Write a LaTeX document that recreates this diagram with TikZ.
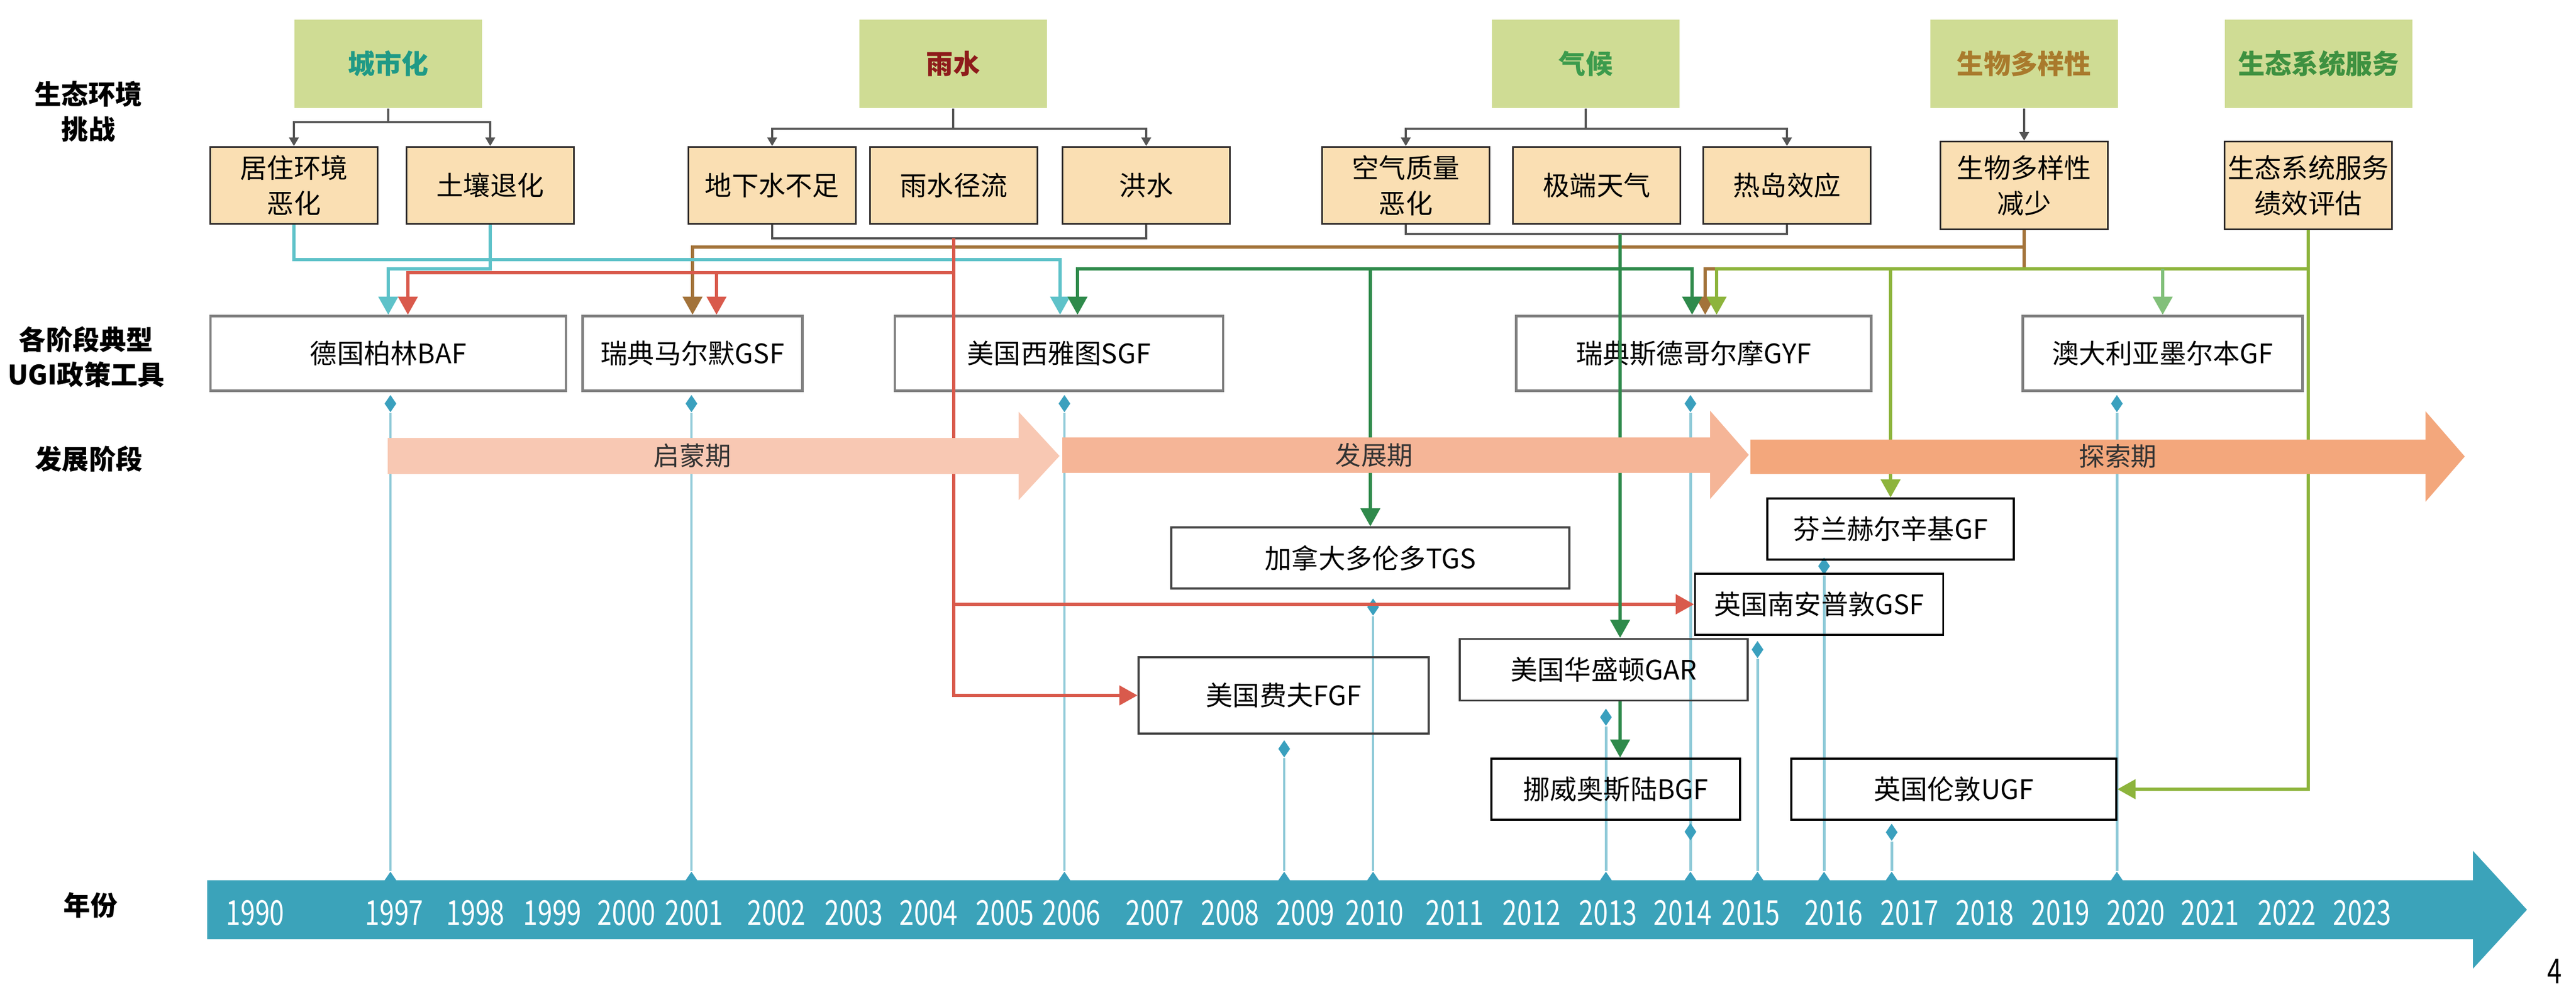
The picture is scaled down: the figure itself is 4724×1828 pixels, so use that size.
\documentclass[tikz,border=0pt]{standalone}
\usepackage{fontspec}
\setmainfont{Noto Sans CJK SC}
\newfontfamily\yearfont[FakeStretch=0.76]{Noto Sans CJK SC}
\usetikzlibrary{arrows.meta,shapes.geometric,calc}

\definecolor{catgreen}{HTML}{CFDC94}
\definecolor{peach}{HTML}{FADFB3}
\definecolor{boxedge}{HTML}{2E2A2A}
\definecolor{toolgray}{HTML}{808080}
\definecolor{brkgray}{HTML}{555555}
\definecolor{tealtxt}{HTML}{1F9A86}
\definecolor{raintxt}{HTML}{8E1B1B}
\definecolor{climtxt}{HTML}{3C9B4C}
\definecolor{biotxt}{HTML}{A97A2C}
\definecolor{ecotxt}{HTML}{3E9140}
\definecolor{cyanln}{HTML}{5EC2C9}
\definecolor{redln}{HTML}{D95A4C}
\definecolor{brownln}{HTML}{A3733A}
\definecolor{dgreenln}{HTML}{2F8A4B}
\definecolor{lgreenln}{HTML}{8DB43C}
\definecolor{mgreenln}{HTML}{82C07A}
\definecolor{stageA}{HTML}{F8C8B3}
\definecolor{stageB}{HTML}{F5B597}
\definecolor{stageC}{HTML}{F3A77C}
\definecolor{axiscol}{HTML}{3BA3BA}
\definecolor{yearcol}{HTML}{8FCAD8}
\definecolor{diamcol}{HTML}{3AA0BE}

\begin{document}
\begin{tikzpicture}[x=0.01cm,y=-0.01cm,
    every node/.style={inner sep=1pt},
    boxfont/.style={font=\fontsize{14}{18.5}\selectfont},
    rowlabel/.style={font=\bfseries\fontsize{14}{18.2}\selectfont,align=center},
    catbox/.style={fill=catgreen,minimum width=3.44cm,minimum height=1.62cm,
      font=\bfseries\fontsize{14}{17}\selectfont},
    probbox/.style={fill=peach,draw=boxedge,line width=0.9pt,minimum width=3.07cm,
      minimum height=1.41cm,align=center,boxfont},
    toolbox/.style={draw=toolgray,line width=1.3pt,minimum height=1.37cm,boxfont},
    citybox/.style={draw=black,line width=1pt,minimum height=1.12cm,boxfont},
    citygray/.style={citybox,draw=black!75},
    brk/.style={draw=brkgray,line width=0.9pt},
    brktips/.style={brk,{Triangle[width=5pt,length=4.5pt]}-{Triangle[width=5pt,length=4.5pt]}},
    link/.style={line width=1.9pt,-{Triangle[width=10pt,length=9.5pt]}},
    diam/.style={diamond,fill=diamcol,inner sep=0pt,minimum width=0.22cm,minimum height=0.32cm},
    yearln/.style={draw=yearcol,line width=1.4pt},
    stagetxt/.style={font=\fontsize{13.5}{16}\selectfont,text=black!80},
    yeartxt/.style={text=white,font={\yearfont\fontsize{18}{20}\selectfont}}]

    \useasboundingbox (0,0) rectangle (4724,1828);

    % Row labels
    \node[rowlabel] (lchal)  at (162,204)  {生态环境\\挑战};
    \node[rowlabel] (ltool)  at (158,654)  {各阶段典型\\UGI政策工具};
    \node[rowlabel] (lstage) at (163,842)  {发展阶段};
    \node[rowlabel] (lyear)  at (166,1660) {年份};

    % Challenge categories
    \node[catbox,text=tealtxt] (cu) at (712,117)  {城市化};
    \node[catbox,text=raintxt] (cr) at (1748,117) {雨水};
    \node[catbox,text=climtxt] (cc) at (2908,117) {气候};
    \node[catbox,text=biotxt]  (cb) at (3712,117) {生物多样性};
    \node[catbox,text=ecotxt]  (ce) at (4252,117) {生态系统服务};

    % Problems
    \node[probbox] (pj) at (539,340)  {居住环境\\恶化};
    \node[probbox] (ps) at (899,340)  {土壤退化};
    \node[probbox] (pg) at (1416,340) {地下水不足};
    \node[probbox] (pr) at (1749,340) {雨水径流};
    \node[probbox] (pf) at (2102,340) {洪水};
    \node[probbox] (pa) at (2578,340) {空气质量\\恶化};
    \node[probbox] (pe) at (2928,340) {极端天气};
    \node[probbox] (ph) at (3277,340) {热岛效应};
    \node[probbox,minimum height=1.61cm] (pb) at (3712,340) {生物多样性\\减少};
    \node[probbox,minimum height=1.61cm] (pv) at (4233,340) {生态系统服务\\绩效评估};

    % Brackets
    \coordinate (uj)  at (712,224);
    \coordinate (rtj) at (1748,236);
    \coordinate (ctj) at (2908,236);
    \coordinate (rj)  at (1749,437);
    \coordinate (cj)  at (2971,429);
    \draw[brk] (cu.south) -- (uj);
    \draw[brktips] (pj.north) |- (uj) -| (ps.north);
    \draw[brk] (cr.south) -- (rtj);
    \draw[brktips] (pg.north) |- (rtj) -| (pf.north);
    \draw[brk] (cc.south) -- (ctj);
    \draw[brktips] (pa.north) |- (ctj) -| (ph.north);
    \draw[brk,-{Triangle[width=5pt,length=4.5pt]}] (cb.south) -- (pb.north);
    \draw[brk] (pg.south) |- (rj) -| (pf.south);
    \draw[brk] (pa.south) |- (cj) -| (ph.south);

    % Policy tools
    \node[toolbox,minimum width=6.52cm] (baf) at (712,648)  {德国柏林BAF};
    \node[toolbox,minimum width=4.03cm] (gsf) at (1270,648) {瑞典马尔默GSF};
    \node[toolbox,minimum width=6.02cm] (sgf) at (1942,648) {美国西雅图SGF};
    \node[toolbox,minimum width=6.51cm] (gyf) at (3106,648) {瑞典斯德哥尔摩GYF};
    \node[toolbox,minimum width=5.13cm] (mgf) at (3966,648) {澳大利亚墨尔本GF};

    % Year lines
    \foreach \n/\x/\y in {a/716/740, b/1268/740, c/1952/740, d/2355/1373,
        e/2518/1113, f/2945/1315, g/3100/740, h/3223/1191, i/3345/1038,
        j/3469/1526, k/3882/740} {
      \node[diam] (d\n) at (\x,\y) {};
      \node[diam] (f\n) at (\x,1614) {};
      \draw[yearln] (d\n) -- (f\n);
    }
    \node[diam] (dl) at (3100,1525) {};

    % Later tools
    \node[citygray,minimum width=7.30cm] (tgs)  at (2513,1023) {加拿大多伦多TGS};
    \node[citygray,minimum width=5.32cm,minimum height=1.40cm] (fgf) at (2354,1275) {美国费夫FGF};
    \node[citygray,minimum width=5.28cm,minimum height=1.13cm] (gar) at (2941,1228) {美国华盛顿GAR};
    \node[citybox,minimum width=4.56cm] (bgf)  at (2963,1447) {挪威奥斯陆BGF};
    \node[citybox,minimum width=4.55cm] (sgsf) at (3336,1108) {英国南安普敦GSF};
    \node[citybox,minimum width=4.52cm] (hgf)  at (3467,970)  {芬兰赫尔辛基GF};
    \node[citybox,minimum width=5.96cm] (ugf)  at (3583,1447) {英国伦敦UGF};

    % Connector levels
    \coordinate (lvA) at (0,453);
    \coordinate (lvB) at (0,476);
    \coordinate (lvC) at (0,493);
    \coordinate (lvD) at (0,500);

    % Biodiversity
    \draw[link,brownln] (pb.south) -- (pb.south |- lvA) -| (gsf.north);
    \draw[link,brownln] (pb.south) -- (pb.south |- lvC) -| ($(gyf.north)+(21,0)$);
    % Urbanisation
    \draw[link,cyanln] (pj.south) -- (pj.south |- lvB) -| ($(sgf.north)+(2,0)$);
    \draw[link,cyanln] (ps.south) -- (ps.south |- lvC) -| (baf.north);
    % Rain
    \draw[link,redln] (rj) |- (fgf.west);
    \draw[link,redln] (rj |- lvD) -| ($(baf.north)+(36,0)$);
    \draw[link,redln] ($(gsf.north |- lvD)+(44,0)$) -- ($(gsf.north)+(44,0)$);
    \draw[link,redln] (rj |- sgsf.west) -- (sgsf.west);
    % Climate
    \draw[link,dgreenln] (cj) -- (cj |- gar.north);
    \draw[link,dgreenln] (cj |- gar.south) -- (cj |- bgf.north);
    \draw[link,dgreenln] (cj |- lvC) -| ($(sgf.north)+(34,0)$);
    \draw[link,dgreenln] (cj |- lvC) -| ($(gyf.north)+(-3,0)$);
    \draw[link,dgreenln] (tgs.north |- lvC) -- (tgs.north);
    % Ecosystem services
    \draw[link,lgreenln] (pv.south) |- (ugf.east);
    \draw[link,lgreenln] (pv.south |- lvC) -| ($(gyf.north)+(42,0)$);
    \draw[link,lgreenln] (hgf.north |- lvC) -- (hgf.north);
    \draw[link,mgreenln] (mgf.north |- lvC) -- (mgf.north);

    % Stages
    \fill[stageA] (711,803) -- (1868,803) -- (1868,755) -- (1943,836)
      -- (1868,917) -- (1868,869) -- (711,869) -- cycle;
    \fill[stageB] (1948,802) -- (3136,802) -- (3136,753) -- (3207,834)
      -- (3136,915) -- (3136,867) -- (1948,867) -- cycle;
    \fill[stageC] (3210,806) -- (4448,806) -- (4448,754) -- (4520,837)
      -- (4448,920) -- (4448,869) -- (3210,869) -- cycle;
    \node[stagetxt] (sa) at (1270,836) {启蒙期};
    \node[stagetxt] (sb) at (2520,834) {发展期};
    \node[stagetxt] (sc) at (3884,837) {探索期};

    % Time axis
    \fill[axiscol] (380,1614) -- (4535,1614) -- (4535,1560) -- (4634,1668)
      -- (4535,1776) -- (4535,1722) -- (380,1722) -- cycle;
    \foreach \yr/\x in {1990/468, 1997/723, 1998/872, 1999/1013, 2000/1149,
        2001/1273, 2002/1424, 2003/1566, 2004/1703, 2005/1843, 2006/1965,
        2007/2118, 2008/2256, 2009/2394, 2010/2521, 2011/2668, 2012/2809,
        2013/2949, 2014/3086, 2015/3211, 2016/3363, 2017/3502, 2018/3640,
        2019/3779, 2020/3917, 2021/4053, 2022/4194, 2023/4332} {
      \node[yeartxt] (y\yr) at (\x,1674) {\yr};
    }

    \node[font={\yearfont\fontsize{18}{20}\selectfont}] (pgno) at (4685,1781) {4};

\end{tikzpicture}
\end{document}
